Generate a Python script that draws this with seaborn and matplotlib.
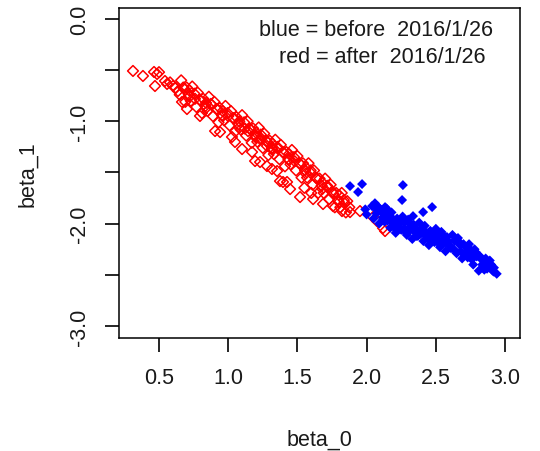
import matplotlib
matplotlib.use("Agg")
import matplotlib.pyplot as plt
import seaborn as sns
import pandas as pd

# ---- data ----
after_beta0 = [
    0.312, 0.384, 0.464, 0.486, 0.471, 0.543, 0.558, 0.601, 0.637, 0.50, 0.58, 0.62,
    0.66, 0.675, 0.65, 0.70, 0.715, 0.69, 0.74, 0.755, 0.73, 0.78, 0.795, 0.77,
    0.82, 0.835, 0.81, 0.86, 0.875, 0.85, 0.90, 0.915, 0.89, 0.94, 0.955, 0.93,
    0.98, 0.995, 0.97, 1.02, 1.035, 1.01, 1.06, 1.075, 1.05, 1.10, 1.115, 1.09,
    1.14, 1.155, 1.13, 1.18, 1.195, 1.17, 1.22, 1.235, 1.21, 1.26, 1.275, 1.25,
    1.30, 1.315, 1.29, 1.34, 1.355, 1.33, 1.38, 1.395, 1.37, 1.42, 1.435, 1.41,
    1.46, 1.475, 1.45, 1.50, 1.515, 1.49, 1.54, 1.555, 1.53, 1.58, 1.595, 1.57,
    1.62, 1.635, 1.61, 1.66, 1.675, 1.65, 1.70, 1.715, 1.69, 1.74, 1.755, 1.73,
    1.78, 1.795, 1.77, 1.82, 1.835, 1.81, 1.86, 1.875, 1.85,
    0.666, 0.702, 0.796, 0.905, 0.941, 1.027, 1.049, 1.100, 1.172, 1.194, 1.230,
    1.280, 1.316, 1.353, 1.374, 1.396, 1.425, 1.447, 1.519, 1.613, 1.685, 1.757,
    1.822, 1.880, 1.952, 2.046, 2.075, 2.118, 2.133,
    1.143, 1.230, 1.280, 1.316, 1.55, 1.60,
    0.72, 0.84, 0.96, 1.08, 1.20, 1.32, 1.44, 1.56, 1.68, 1.80,
    0.76, 0.88, 1.00, 1.12, 1.24, 1.36, 1.48, 1.60, 1.72, 1.84,
    0.68, 0.72, 0.80, 0.84, 0.92, 0.96, 1.04, 1.08, 1.16, 1.20,
    1.28, 1.32, 1.40, 1.44, 1.52, 1.56, 1.64, 1.68, 1.76, 1.80,
]
after_beta1 = [
    -0.508, -0.557, -0.518, -0.538, -0.655, -0.606, -0.635, -0.655, -0.704, -0.52, -0.62, -0.67,
    -0.60, -0.67, -0.74, -0.67, -0.74, -0.81, -0.66, -0.73, -0.80, -0.72, -0.79, -0.86,
    -0.78, -0.85, -0.92, -0.76, -0.83, -0.90, -0.81, -0.88, -0.95, -0.87, -0.94, -1.01,
    -0.85, -0.92, -0.99, -0.90, -0.97, -1.04, -0.96, -1.03, -1.10, -0.94, -1.01, -1.08,
    -1.00, -1.07, -1.14, -1.07, -1.14, -1.21, -1.06, -1.13, -1.20, -1.12, -1.19, -1.26,
    -1.19, -1.26, -1.33, -1.18, -1.25, -1.32, -1.23, -1.30, -1.37, -1.30, -1.37, -1.44,
    -1.28, -1.35, -1.42, -1.34, -1.41, -1.48, -1.41, -1.48, -1.55, -1.41, -1.48, -1.55,
    -1.48, -1.55, -1.62, -1.56, -1.63, -1.70, -1.56, -1.63, -1.70, -1.62, -1.69, -1.76,
    -1.70, -1.77, -1.84, -1.70, -1.77, -1.84, -1.78, -1.84, -1.89,
    -0.811, -0.880, -0.948, -1.095, -1.105, -1.153, -1.202, -1.271, -1.300, -1.388, -1.398,
    -1.437, -1.466, -1.486, -1.584, -1.593, -1.593, -1.662, -1.740, -1.760, -1.808, -1.828,
    -1.877, -1.887, -1.877, -1.935, -1.975, -2.043, -2.072,
    -1.095, -1.173, -1.241, -1.271, -1.65, -1.70,
    -0.70, -0.82, -0.90, -1.00, -1.11, -1.22, -1.32, -1.45, -1.60, -1.72,
    -0.78, -0.84, -0.95, -1.07, -1.17, -1.27, -1.39, -1.51, -1.65, -1.80,
    -0.68, -0.76, -0.80, -0.87, -0.88, -0.95, -0.97, -1.06, -1.08, -1.16,
    -1.20, -1.28, -1.31, -1.38, -1.42, -1.51, -1.56, -1.66, -1.71, -1.79,
]

before_beta0 = [
    2.06, 2.075, 2.05, 2.10, 2.115, 2.09, 2.14, 2.155, 2.13, 2.18, 2.195, 2.17,
    2.22, 2.235, 2.21, 2.26, 2.275, 2.25, 2.30, 2.315, 2.29, 2.34, 2.355, 2.33,
    2.38, 2.395, 2.37, 2.42, 2.435, 2.41, 2.46, 2.475, 2.45, 2.50, 2.515, 2.49,
    2.54, 2.555, 2.53, 2.58, 2.595, 2.57, 2.62, 2.635, 2.61, 2.66, 2.675, 2.65,
    2.70, 2.715, 2.69, 2.74, 2.755, 2.73, 2.78, 2.795, 2.77, 2.82, 2.835, 2.81,
    2.86, 2.875, 2.85, 2.90, 2.91, 2.94,
    2.08, 2.12, 2.16, 2.20, 2.24, 2.28, 2.32, 2.36, 2.40, 2.44, 2.48, 2.52,
    2.56, 2.60, 2.64, 2.68, 2.72, 2.76, 2.80, 2.84, 2.88, 2.92,
    1.880, 1.967, 1.938, 2.262, 2.256, 2.039, 2.147, 2.408, 2.473, 2.335, 2.133,
    2.061, 1.99, 2.00,
    2.07, 2.11, 2.15, 2.19, 2.23, 2.27, 2.31, 2.35, 2.39, 2.43, 2.47, 2.51,
    2.55, 2.59, 2.63, 2.67, 2.71, 2.75, 2.79, 2.83, 2.87, 2.89, 2.92,
]
before_beta1 = [
    -1.80, -1.87, -1.95, -1.86, -1.94, -2.00, -1.85, -1.91, -1.98, -1.89, -1.96, -2.04,
    -1.95, -2.03, -2.09, -1.93, -1.99, -2.06, -1.96, -2.03, -2.11, -2.01, -2.09, -2.15,
    -1.99, -2.05, -2.12, -2.02, -2.09, -2.17, -2.07, -2.15, -2.21, -2.05, -2.11, -2.18,
    -2.08, -2.15, -2.23, -2.13, -2.21, -2.27, -2.11, -2.17, -2.24, -2.14, -2.21, -2.29,
    -2.20, -2.28, -2.34, -2.20, -2.26, -2.33, -2.25, -2.32, -2.40, -2.32, -2.40, -2.46,
    -2.34, -2.40, -2.45, -2.40, -2.46, -2.49,
    -1.83, -1.96, -1.92, -2.04, -1.98, -2.08, -2.00, -2.12, -2.06, -2.14, -2.10, -2.19,
    -2.12, -2.22, -2.16, -2.27, -2.23, -2.35, -2.30, -2.43, -2.38, -2.47,
    -1.633, -1.613, -1.691, -1.623, -1.769, -1.828, -1.857, -1.887, -1.838, -1.926, -1.838,
    -1.828, -1.86, -1.91,
    -1.90, -1.89, -1.97, -2.00, -1.99, -2.05, -2.07, -2.04, -2.10, -2.12, -2.17, -2.15,
    -2.20, -2.17, -2.25, -2.18, -2.30, -2.31, -2.28, -2.35, -2.44, -2.36, -2.43,
]

x_ticks = [0.5, 1.0, 1.5, 2.0, 2.5, 3.0]
x_tick_labels = ["0.5", "1.0", "1.5", "2.0", "2.5", "3.0"]
y_ticks = [0.0, -0.5, -1.0, -1.5, -2.0, -2.5, -3.0]
y_tick_labels = ["0.0", "", "-1.0", "", "-2.0", "", "-3.0"]
legend_lines = ["blue = before  2016/1/26", "red = after  2016/1/26"]

# ---- style ----
sns.set_style("ticks")
plt.rcParams["font.family"] = ["Liberation Sans", "DejaVu Sans"]
FS = 15.5

fig = plt.figure(figsize=(5.4, 4.52), dpi=100)
ax = fig.add_axes([119 / 540, 1 - 339 / 452, 401 / 540, 330 / 452])

df_after = pd.DataFrame({"beta_0": after_beta0, "beta_1": after_beta1})
df_before = pd.DataFrame({"beta_0": before_beta0, "beta_1": before_beta1})

sns.scatterplot(data=df_after, x="beta_0", y="beta_1", ax=ax, marker="D",
                s=30, color="red", facecolors="none", edgecolor="red",
                linewidth=1.1, legend=False, zorder=2)
sns.scatterplot(data=df_before, x="beta_0", y="beta_1", ax=ax, marker="D",
                s=26, color="blue", edgecolor="none", linewidth=0,
                legend=False, zorder=3)

ax.set_xlim(0.211, 3.108)
ax.set_ylim(-3.117, 0.107)

ax.set_xticks(x_ticks)
ax.set_xticklabels(x_tick_labels)
ax.set_yticks(y_ticks)
ax.set_yticklabels(y_tick_labels, rotation=90, va="center")

ax.tick_params(axis="both", direction="out", length=10, width=1.2,
               color="black", labelsize=FS, labelcolor="#1a1a1a", pad=11)

for sp in ax.spines.values():
    sp.set_visible(True)
    sp.set_linewidth(1.1)
    sp.set_color("black")

ax.set_xlabel("beta_0", fontsize=FS, labelpad=29, color="#1a1a1a")
ax.set_ylabel("beta_1", fontsize=FS, labelpad=22, color="#1a1a1a")

ax.text(0.6397, 0.936, legend_lines[0], transform=ax.transAxes, ha="center",
        va="center", fontsize=FS, color="#1a1a1a")
ax.text(0.657, 0.8545, legend_lines[1], transform=ax.transAxes, ha="center",
        va="center", fontsize=FS, color="#1a1a1a")

fig.savefig("out.png", dpi=100)
